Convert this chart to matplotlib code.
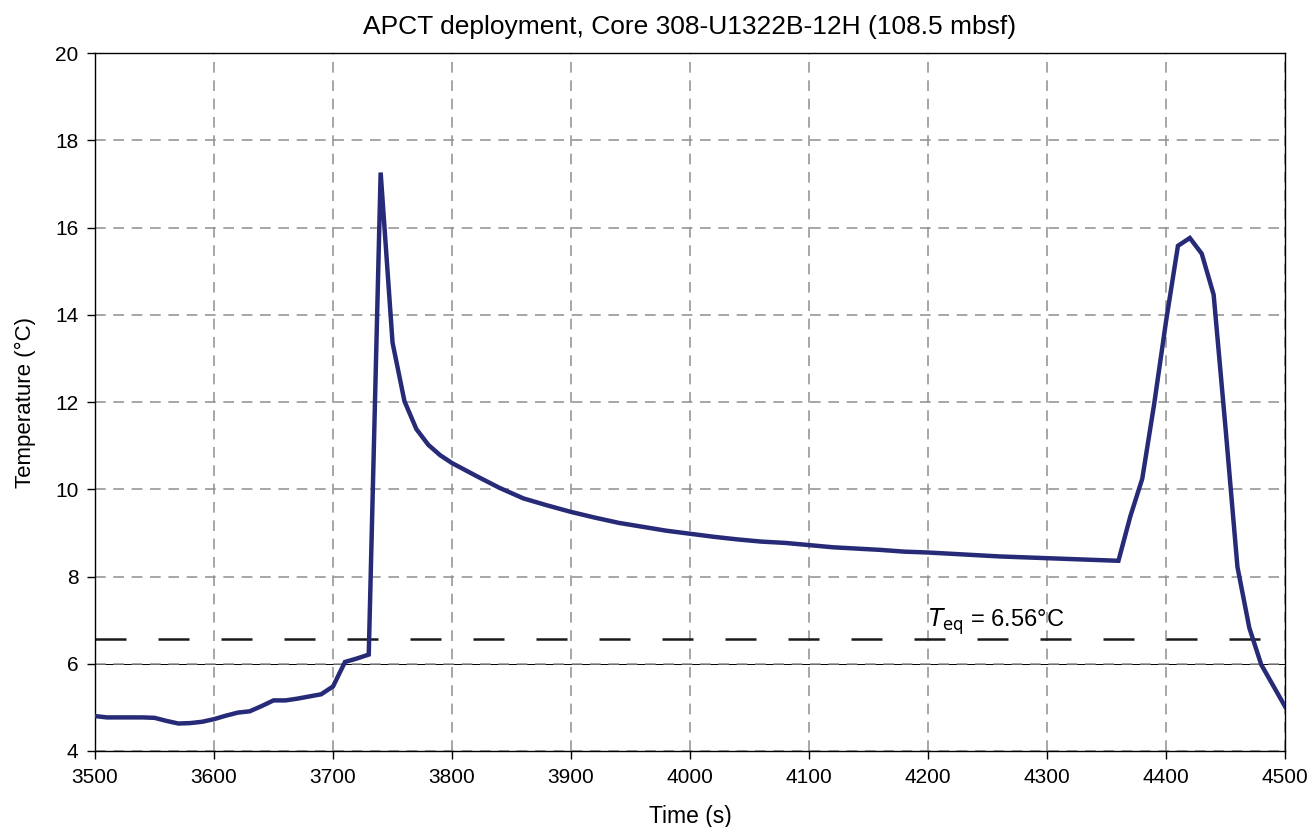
import matplotlib
matplotlib.use("Agg")
import matplotlib.pyplot as plt

# APCT temperature record, Core 308-U1322B-12H
time_s = [3500, 3510, 3520, 3530, 3540, 3550, 3560, 3570, 3580, 3590,
          3600, 3610, 3620, 3630, 3640, 3650, 3660, 3670, 3680, 3690,
          3700, 3710, 3720, 3730, 3740, 3750, 3760, 3770, 3780, 3790,
          3800, 3820, 3840, 3860, 3880, 3900, 3920, 3940, 3960, 3980,
          4000, 4020, 4040, 4060, 4080, 4100, 4120, 4140, 4160, 4180,
          4200, 4220, 4240, 4260, 4280, 4300, 4320, 4340, 4360, 4370,
          4380, 4390, 4400, 4410, 4420, 4430, 4440, 4450, 4460, 4470,
          4480, 4490, 4500]
temp_c = [4.80, 4.77, 4.77, 4.77, 4.77, 4.76, 4.69, 4.63, 4.64, 4.67,
          4.73, 4.81, 4.88, 4.91, 5.03, 5.16, 5.16, 5.20, 5.25, 5.30,
          5.48, 6.04, 6.12, 6.21, 17.26, 13.36, 12.02, 11.38, 11.02, 10.78,
          10.60, 10.31, 10.03, 9.79, 9.63, 9.48, 9.35, 9.23, 9.14, 9.05,
          8.98, 8.91, 8.85, 8.80, 8.77, 8.72, 8.67, 8.64, 8.61, 8.57,
          8.55, 8.52, 8.49, 8.46, 8.44, 8.42, 8.40, 8.38, 8.36, 9.38,
          10.24, 11.95, 13.85, 15.58, 15.76, 15.40, 14.46, 11.40, 8.22, 6.82,
          5.98, 5.50, 5.02]

t_eq = 6.56
x_ticks = [3500, 3600, 3700, 3800, 3900, 4000, 4100, 4200, 4300, 4400, 4500]
y_ticks = [4, 6, 8, 10, 12, 14, 16, 18, 20]

plt.rcParams['font.family'] = ['Liberation Sans', 'DejaVu Sans']

fig = plt.figure(figsize=(13.11, 8.27), dpi=100)
ax = fig.add_axes([0.0725, 0.0919, 0.9077, 0.844])

ax.set_xlim(3500, 4500)
ax.set_ylim(4, 20)
ax.set_xticks(x_ticks)
ax.set_yticks(y_ticks)

# dashed grey grid
ax.grid(True, color='#8e8e8e', linewidth=1.1, linestyle=(0, (7, 5)))
ax.set_axisbelow(True)
ax.axhline(6, color='black', linewidth=0.7, zorder=0.5)

# equilibrium temperature
ax.axhline(t_eq, color='#1a1a1a', linewidth=1.8, dashes=(12.4, 12.8), zorder=2)
ax.text(4200, t_eq + 0.05, r'$T_{\mathrm{eq}}$ = %.2f°C' % t_eq, fontsize=17,
        ha='left', va='bottom', zorder=3)

ax.plot(time_s, temp_c, color='#272a77', linewidth=3.2, zorder=4,
        solid_joinstyle='miter')

for s in ax.spines.values():
    s.set_linewidth(1.0)
    s.set_color('black')
ax.tick_params(direction='out', length=6, width=1.0, labelsize=15, pad=6)

ax.set_title('APCT deployment, Core 308-U1322B-12H (108.5 mbsf)', fontsize=19, pad=14)
ax.set_xlabel('Time (s)', fontsize=16.5, labelpad=13)
ax.set_ylabel('Temperature (°C)', fontsize=16, labelpad=14)

fig.savefig('out.png', dpi=100)
